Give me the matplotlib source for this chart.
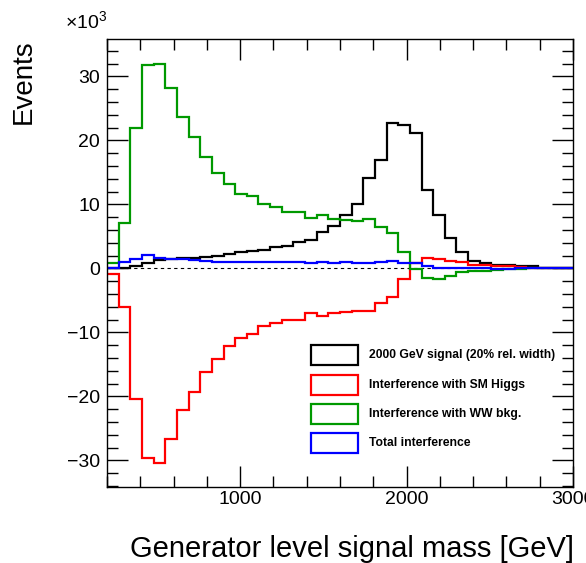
import matplotlib
matplotlib.use("Agg")
import matplotlib.pyplot as plt
from matplotlib.patches import Rectangle
from matplotlib.ticker import MultipleLocator
import numpy as np

plt.rcParams['font.family'] = ['Liberation Sans', 'DejaVu Sans']
plt.rcParams['mathtext.fontset'] = 'custom'
plt.rcParams['mathtext.rm'] = 'Liberation Sans'

# 40 bins of 70 GeV, 200 - 3000 GeV; contents in units of 10^3 events
bin_edges = np.arange(200, 3001, 70)

signal = [0, 0, 0.36, 0.9, 1.3, 1.45, 1.55, 1.7, 1.8, 2.0,
          2.2, 2.5, 2.7, 2.85, 3.3, 3.5, 4.2, 4.5, 5.7, 6.65,
          8.3, 10.05, 14.1, 17.0, 22.75, 22.4, 21.2, 12.2, 8.3, 4.8,
          2.5, 1.2, 0.9, 0.6, 0.5, 0.36, 0.36, 0.1, 0.1, 0.0]
interf_higgs = [-0.8, -6.0, -20.4, -29.7, -30.4, -26.7, -22.2, -19.3, -16.2, -14.2,
                -12.1, -10.8, -10.2, -9.0, -8.5, -8.1, -8.1, -7.0, -7.4, -6.9,
                -6.8, -6.6, -6.7, -5.4, -4.4, -1.7, 0.9, 1.65, 1.45, 1.2,
                1.0, 0.6, 0.6, 0.4, 0.45, 0.15, 0.1, 0.05, 0.05, 0.0]
interf_ww = [0.9, 7.1, 21.9, 31.8, 32.0, 28.2, 23.6, 20.5, 17.4, 14.9,
             13.2, 11.6, 11.3, 10.1, 9.6, 8.85, 8.85, 7.85, 8.4, 7.65,
             7.55, 7.35, 7.7, 6.4, 5.6, 2.6, -0.15, -1.5, -1.6, -1.15,
             -0.6, -0.37, -0.37, -0.25, -0.15, -0.05, 0, 0, 0, 0]
interf_total = [0.1, 0.95, 1.45, 2.1, 1.6, 1.45, 1.45, 1.3, 1.2, 1.05,
                1.0, 1.0, 1.0, 0.95, 0.95, 0.95, 0.95, 0.78, 0.95, 0.78,
                0.95, 0.9, 0.9, 1.0, 1.2, 0.9, 0.8, 0.36, 0.1, 0.1,
                0.1, 0.05, 0.0, -0.05, -0.05, 0.0, 0.0, 0.0, 0.0, 0.0]

labels = ['2000 GeV signal (20% rel. width)', 'Interference with SM Higgs',
          'Interference with WW bkg.', 'Total interference']
colors = ['black', '#ff0000', '#009900', '#0000ff']
series = [signal, interf_higgs, interf_ww, interf_total]

fig = plt.figure(figsize=(5.86, 5.63), dpi=100)
ax = fig.add_axes([0.1826, 0.1345, 0.7952, 0.7957])

ax.axhline(0, color='black', lw=0.8, ls=(0, (3, 3)), zorder=1)
for vals, col in zip(series, colors):
    ax.stairs(vals, bin_edges, baseline=None, color=col, lw=1.6, zorder=2)

ax.set_xlim(200, 3000)
ax.set_ylim(-34.2, 35.8)
ax.xaxis.set_major_locator(MultipleLocator(1000))
ax.xaxis.set_minor_locator(MultipleLocator(200))
ax.yaxis.set_major_locator(MultipleLocator(10))
ax.yaxis.set_minor_locator(MultipleLocator(2))
ax.tick_params(which='both', direction='in', top=True, right=True, width=1, labelsize=14)
ax.tick_params(which='major', length=15)
ax.tick_params(which='minor', length=8)
ax.tick_params(axis='x', pad=3)
ax.tick_params(axis='y', pad=5)
for sp in ax.spines.values():
    sp.set_linewidth(1)

# legend drawn by hand, ROOT style
for i, (lab, col) in enumerate(zip(labels, colors)):
    yc = 0.2946 - i * 0.0652
    ax.add_patch(Rectangle((0.437, yc - 0.0223), 0.102, 0.0446, transform=ax.transAxes,
                           fill=False, edgecolor=col, lw=1.6, zorder=3))
    ax.text(0.562, yc, lab, transform=ax.transAxes, fontsize=8.7, fontweight='bold',
            va='center', ha='left')

fig.text(574 / 586, 1 - 557 / 563, 'Generator level signal mass [GeV]', fontsize=21,
         ha='right', va='baseline')
fig.text(24 / 586, 1 - 39 / 563, 'Events', fontsize=20, rotation=90, ha='center', va='top')
fig.text(65 / 586, 1 - 28 / 563, r'$\mathregular{\times10^{3}}$', fontsize=14,
         ha='left', va='baseline')

fig.savefig('out.png', dpi=100)
